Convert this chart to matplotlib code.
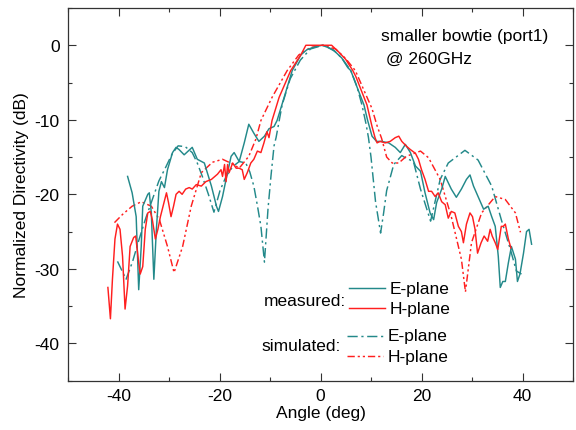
import matplotlib
matplotlib.use("Agg")
import matplotlib.pyplot as plt
from matplotlib.lines import Line2D
from matplotlib.ticker import MultipleLocator

plt.rcParams['font.family'] = ['Liberation Sans', 'DejaVu Sans']
plt.rcParams['axes.unicode_minus'] = False

# ---------------- data ----------------
meas_e_ang = [-38.2, -37.3, -36.5, -36.0, -35.5, -35.2, -34.2, -33.9, -33.5, -33.0, -32.5, -32.0,
              -31.5, -30.9, -30.3, -29.3, -28.6, -28.0, -27.0, -25.4, -24.4, -23.0, -21.6, -20.6,
              -20.2, -19.4, -18.7, -17.7, -17.1, -16.1, -15.1, -14.2, -13.2, -12.2, -11.1, -10.2,
              -9.2, -8.6, -7.2, -5.6, -3.9, -2.7, -1.5, 0.3, 1.5, 2.8, 4.2, 5.4, 6.0, 7.0, 8.6,
              9.3, 10.2, 11.1, 12.1, 13.5, 14.8, 15.8, 16.8, 17.8, 18.8, 19.8, 20.7, 21.7, 22.4,
              23.0, 24.0, 24.7, 25.9, 26.9, 27.9, 28.9, 29.6, 30.3, 31.2, 32.3, 33.2, 33.9, 34.6,
              35.2, 35.6, 36.1, 36.6, 37.2, 37.8, 38.6, 39.0, 39.5, 40.2, 40.8, 41.3, 41.8]
meas_e_db = [-17.6, -19.8, -23.0, -32.8, -27.0, -21.6, -20.0, -19.8, -22.5, -31.4, -24.7, -19.6,
             -18.3, -19.1, -16.7, -14.4, -13.7, -14.0, -14.7, -13.7, -15.3, -15.8, -18.9, -21.6,
             -22.3, -20.3, -18.0, -14.9, -14.4, -15.6, -13.1, -10.6, -11.8, -12.9, -12.2, -11.2,
             -10.9, -10.1, -7.0, -3.4, -1.3, -0.6, -0.3, 0.0, -0.3, -0.8, -1.7, -3.0, -3.4, -5.2,
             -8.0, -10.0, -12.2, -12.9, -12.9, -13.1, -13.7, -14.4, -13.3, -14.4, -16.2, -16.9,
             -19.8, -22.5, -23.4, -21.1, -19.3, -17.6, -19.3, -20.4, -19.3, -18.0, -17.4, -18.9,
             -20.3, -22.0, -21.6, -23.0, -24.3, -28.3, -32.5, -31.7, -31.7, -29.2, -27.0, -28.7,
             -31.7, -30.7, -27.9, -25.0, -24.7, -26.7]

meas_h_ang = [-42.1, -41.6, -41.2, -40.7, -40.2, -39.7, -39.2, -38.7, -38.2, -37.7, -37.0, -36.6,
              -36.0, -35.7, -35.2, -34.7, -34.2, -33.7, -33.3, -32.7, -32.2, -31.7, -31.1, -30.5,
              -30.1, -29.6, -29.1, -28.6, -28.0, -27.4, -26.7, -26.0, -25.4, -24.6, -23.6, -22.7,
              -21.6, -20.4, -19.7, -19.4, -19.0, -18.7, -18.4, -18.1, -17.4, -16.7, -16.1, -15.5,
              -15.1, -14.5, -13.8, -13.2, -12.5, -11.8, -11.2, -10.6, -10.2, -9.6, -8.2, -5.9,
              -3.9, -2.9, -0.9, 2.2, 3.6, 5.0, 6.4, 7.0, 9.2, 10.2, 10.8, 11.2, 11.8, 12.8, 13.8,
              14.8, 15.5, 16.1, 17.1, 17.8, 18.8, 19.4, 20.0, 20.7, 21.4, 22.0, 22.7, 23.3, 24.0,
              24.7, 25.3, 25.9, 26.6, 27.3, 27.9, 28.3, 28.9, 29.6, 30.1, 30.6, 31.1, 31.8, 32.4,
              33.1, 33.6, 34.0, 34.6, 35.1, 35.8, 36.2, 36.6, 37.2, 37.7]
meas_h_db = [-32.5, -36.7, -31.4, -26.0, -24.0, -24.7, -28.3, -35.4, -32.3, -27.0, -25.8, -25.6,
             -29.2, -30.7, -29.7, -24.7, -22.5, -22.3, -23.4, -26.0, -24.7, -23.0, -21.4, -19.8,
             -21.1, -23.0, -21.6, -20.0, -19.6, -20.0, -19.3, -19.1, -19.3, -18.7, -18.9, -18.3,
             -18.0, -17.3, -16.7, -17.6, -16.0, -18.3, -16.0, -17.1, -15.8, -16.5, -16.5, -16.7,
             -18.0, -17.1, -15.8, -15.3, -14.2, -14.4, -13.1, -11.6, -12.4, -10.1, -7.0, -3.4,
             -1.3, 0.0, 0.0, 0.0, -0.9, -1.9, -3.4, -4.2, -8.0, -10.9, -12.4, -13.1, -12.9, -13.1,
             -12.9, -12.4, -12.2, -12.9, -13.6, -14.0, -14.5, -15.3, -16.7, -18.0, -19.6, -19.6,
             -20.3, -19.8, -21.0, -21.4, -23.2, -22.3, -22.5, -24.3, -25.0, -26.5, -24.0, -22.5,
             -23.0, -24.7, -27.9, -26.5, -25.6, -26.3, -24.7, -25.6, -26.5, -27.4, -24.3, -24.3,
             -24.0, -26.0, -27.2]

sim_e_ang = [-40.2, -38.5, -37.2, -35.9, -34.6, -33.3, -32.0, -30.6, -29.4, -28.2, -26.8, -25.4,
             -24.4, -23.4, -22.2, -21.1, -19.9, -18.7, -17.4, -16.1, -14.8, -14.0, -13.2, -12.5,
             -11.8, -11.1, -10.4, -9.8, -9.2, -8.8, -7.6, -6.0, -4.0, -2.0, 0.5, 2.5, 4.2, 6.0,
             7.2, 8.2, 9.0, 9.5, 10.0, 10.9, 11.9, 12.5, 13.1, 14.5, 16.1, 16.8, 18.4, 19.8,
             21.8, 23.7, 25.3, 28.6, 31.2, 33.9, 35.8, 37.6, 38.8, 39.8]
sim_e_db = [-29.0, -31.4, -29.0, -26.0, -23.2, -20.7, -18.2, -16.3, -14.6, -13.5, -13.6, -14.4,
            -15.8, -17.6, -20.0, -22.4, -19.5, -17.6, -16.3, -15.6, -15.8, -17.0, -18.9, -21.5,
            -24.3, -29.1, -22.0, -17.5, -13.5, -12.4, -8.0, -4.5, -2.0, -0.5, 0.0, -0.6, -1.7,
            -3.4, -5.5, -8.0, -10.5, -12.4, -15.0, -21.0, -25.2, -22.5, -19.5, -16.0, -14.8,
            -15.1, -15.6, -19.3, -23.6, -18.0, -15.8, -14.1, -15.4, -18.9, -23.4, -27.4, -30.3,
            -30.7]

sim_h_ang = [-40.8, -39.2, -37.3, -35.5, -33.5, -31.9, -30.3, -29.0, -27.3, -25.6, -23.6, -21.4,
             -19.4, -17.5, -16.1, -14.2, -12.8, -11.8, -9.6, -6.6, -4.3, -2.0, 0.5, 3.0, 5.0,
             6.9, 8.9, 10.2, 11.2, 12.1, 13.1, 14.2, 15.5, 17.0, 19.8, 21.4, 23.7, 25.9, 27.9,
             28.7, 29.9, 31.9, 34.6, 36.6, 38.6, 39.6]
sim_h_db = [-23.8, -22.7, -21.6, -21.0, -21.6, -23.4, -27.0, -30.5, -27.0, -21.6, -17.1, -15.7,
            -15.3, -15.9, -16.5, -14.9, -12.6, -10.1, -7.0, -3.4, -1.3, -0.3, 0.0, -0.5, -1.8,
            -3.4, -6.5, -8.5, -10.8, -12.5, -15.0, -15.8, -15.8, -14.9, -14.2, -15.1, -18.0,
            -23.0, -28.7, -33.1, -26.5, -22.5, -20.3, -20.7, -22.5, -25.1]

TEAL = '#23898a'
RED = '#ff1f1f'
DASHDOT = (0, (7, 2.5, 1.5, 2.5))
DASHDOTDOT = (0, (5, 2, 1.5, 2, 1.5, 2))
FS = 12.5

fig = plt.figure(figsize=(5.76, 4.31), dpi=100)
ax = fig.add_axes([68 / 576, 1 - 381.6 / 431, 505 / 576, (381.6 - 9) / 431])

lw = 1.05
ax.plot(sim_e_ang, sim_e_db, color=TEAL, lw=lw, linestyle=DASHDOT)
ax.plot(sim_h_ang, sim_h_db, color=RED, lw=lw, linestyle=DASHDOTDOT)
ax.plot(meas_e_ang, meas_e_db, color=TEAL, lw=lw)
ax.plot(meas_h_ang, meas_h_db, color=RED, lw=lw)

ax.set_xlim(-50, 50)
ax.set_ylim(-45, 5)
ax.xaxis.set_major_locator(MultipleLocator(20))
ax.xaxis.set_minor_locator(MultipleLocator(10))
ax.yaxis.set_major_locator(MultipleLocator(10))
ax.yaxis.set_minor_locator(MultipleLocator(5))
ax.tick_params(which='both', direction='in', top=True, right=True, width=0.8, color='#333333')
ax.tick_params(which='major', length=5.5)
ax.tick_params(which='minor', length=3.2)
ax.tick_params(axis='x', labelsize=FS, pad=5)
ax.tick_params(axis='y', labelsize=FS, pad=6)
for s in ax.spines.values():
    s.set_linewidth(0.9)
    s.set_color('#333333')

ax.set_xlabel('Angle (deg)', fontsize=FS)
ax.set_ylabel('Normalized Directivity (dB)', fontsize=FS)
ax.xaxis.set_label_coords(0.5, -0.066)
ax.yaxis.set_label_coords(-0.077, 0.5)

ax.text(0.620, 0.925, 'smaller bowtie (port1)', transform=ax.transAxes, fontsize=FS, va='center', ha='left')
ax.text(0.620, 0.866, ' @ 260GHz', transform=ax.transAxes, fontsize=FS, va='center', ha='left')

# legend (manual)
def leg_line(x0, x1, y, color, ls):
    ax.add_line(Line2D([x0, x1], [y, y], transform=ax.transAxes, color=color, lw=lw, linestyle=ls))

ax.text(0.5505, 0.2137, 'measured:', transform=ax.transAxes, fontsize=FS, ha='right', va='center')
leg_line(0.5564, 0.6277, 0.2485, TEAL, '-')
leg_line(0.5564, 0.6277, 0.1948, RED, '-')
ax.text(0.6376, 0.2485, 'E-plane', transform=ax.transAxes, fontsize=FS, ha='left', va='center')
ax.text(0.6376, 0.1948, 'H-plane', transform=ax.transAxes, fontsize=FS, ha='left', va='center')

ax.text(0.5406, 0.0955, 'simulated:', transform=ax.transAxes, fontsize=FS, ha='right', va='center')
leg_line(0.5525, 0.6238, 0.1197, TEAL, DASHDOT)
leg_line(0.5525, 0.6238, 0.066, RED, DASHDOTDOT)
ax.text(0.6337, 0.1197, 'E-plane', transform=ax.transAxes, fontsize=FS, ha='left', va='center')
ax.text(0.6337, 0.066, 'H-plane', transform=ax.transAxes, fontsize=FS, ha='left', va='center')

fig.savefig('out.png', dpi=100)
